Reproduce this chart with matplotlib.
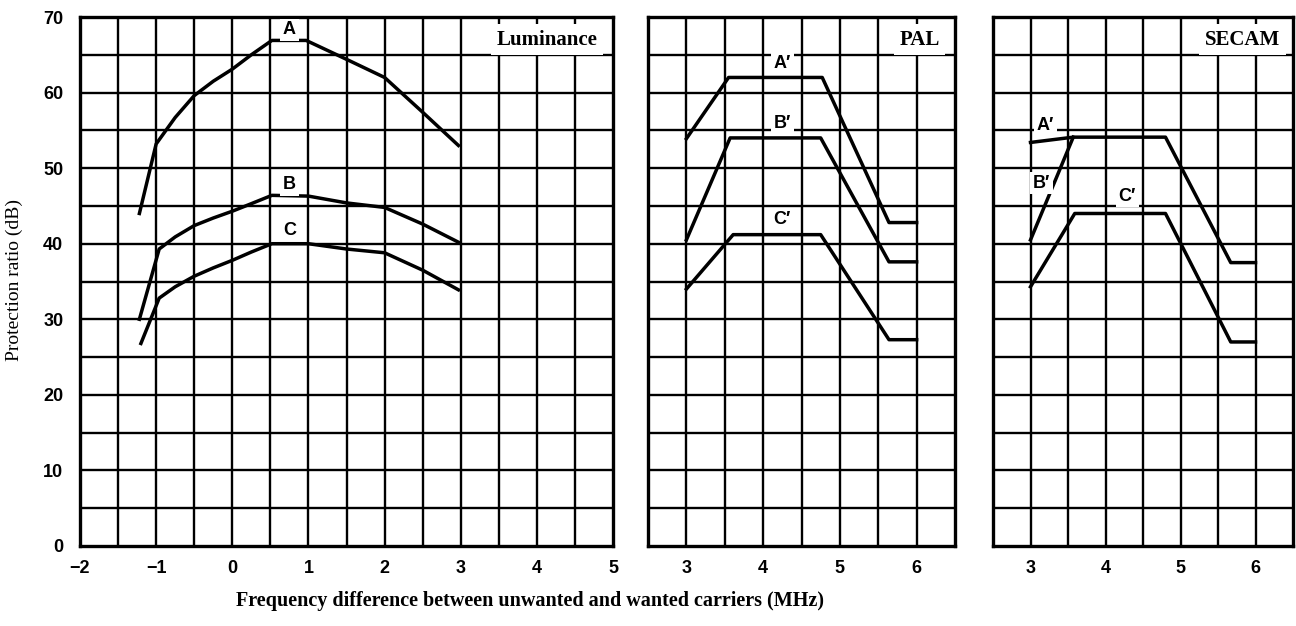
import numpy as np
import matplotlib
matplotlib.use("Agg")
import matplotlib.pyplot as plt

# Luminance panel (MHz, dB)
lum_x_A = [-1.22, -1.0, -0.75, -0.5, -0.25, 0.0, 0.25, 0.52, 0.97, 1.5, 2.0, 2.5, 2.97]
lum_y_A = [44.0, 53.2, 56.7, 59.6, 61.5, 63.1, 65.0, 66.9, 66.9, 64.4, 62.0, 57.4, 53.0]
lum_x_B = [-1.22, -0.96, -0.75, -0.5, -0.25, 0.0, 0.25, 0.52, 1.0, 1.5, 2.0, 2.5, 2.97]
lum_y_B = [30.0, 39.3, 40.9, 42.4, 43.4, 44.3, 45.3, 46.4, 46.3, 45.4, 44.8, 42.6, 40.2]
lum_x_C = [-1.2, -0.96, -0.75, -0.5, -0.25, 0.0, 0.25, 0.52, 1.0, 1.5, 2.0, 2.5, 2.97]
lum_y_C = [26.8, 32.8, 34.3, 35.7, 36.8, 37.8, 38.9, 40.0, 40.0, 39.3, 38.8, 36.5, 33.9]

# PAL panel
pal_x_A = [3.0, 3.55, 4.77, 5.64, 6.0]
pal_y_A = [53.9, 62.0, 62.0, 42.8, 42.8]
pal_x_B = [3.0, 3.57, 4.75, 5.64, 6.0]
pal_y_B = [40.5, 54.0, 54.0, 37.6, 37.6]
pal_x_C = [3.0, 3.61, 4.75, 5.64, 6.0]
pal_y_C = [34.0, 41.2, 41.2, 27.3, 27.3]

# SECAM panel
sec_x_A = [3.0, 3.57, 4.8, 5.67, 6.0]
sec_y_A = [53.4, 54.1, 54.1, 37.5, 37.5]
sec_x_B = [3.0, 3.57]
sec_y_B = [40.5, 54.1]
sec_x_C = [3.0, 3.59, 4.8, 5.67, 6.0]
sec_y_C = [34.3, 44.0, 44.0, 27.0, 27.0]

sans = ["Liberation Sans", "DejaVu Sans"]
serif = ["Liberation Serif", "DejaVu Serif"]

W, H = 1296, 626
fig = plt.figure(figsize=(W / 100, H / 100), dpi=100)


def px_axes(x0, x1, y0, y1):
    # pixel box (left, right, top, bottom) -> figure fraction
    return fig.add_axes([x0 / W, 1 - y1 / H, (x1 - x0) / W, (y1 - y0) / H])


def setup(ax, xmin, xmax, xticks, ylabels):
    ax.set_xlim(xmin, xmax)
    ax.set_ylim(0, 70)
    ax.set_xticks(xticks)
    ax.set_xticklabels([("\u2212%d" % -t) if t < 0 else "%d" % t for t in xticks],
                       family=sans, fontweight="heavy", fontsize=13)
    if ylabels:
        ax.set_yticks(np.arange(0, 71, 10))
        ax.set_yticklabels(["%d" % v for v in np.arange(0, 71, 10)],
                           family=sans, fontweight="heavy", fontsize=13)
    else:
        ax.set_yticks([])
    ax.tick_params(which="both", length=0)
    ax.tick_params(axis="x", pad=10)
    ax.tick_params(axis="y", pad=12)
    # grid every 0.5 MHz and 5 dB
    for gx in np.arange(xmin + 0.5, xmax, 0.5):
        ax.axvline(gx, color="black", lw=1.7, zorder=1)
    for gy in np.arange(5, 70, 5):
        ax.axhline(gy, color="black", lw=1.7, zorder=1)
    for s in ax.spines.values():
        s.set_linewidth(2.4)


def lab(ax, x, y, s, **kw):
    ax.text(x, y, s, ha="center", va="center", family=sans, fontweight="bold",
            fontsize=13, zorder=5,
            bbox=dict(facecolor="white", edgecolor="none", pad=2), **kw)


def title(ax, x, s):
    ax.text(x, 67, s, ha="right", va="center", family=serif, fontsize=15,
            fontweight="semibold", zorder=5,
            bbox=dict(facecolor="white", edgecolor="none", pad=4))


lw = 2.5

ax1 = px_axes(80, 613, 17, 546)
setup(ax1, -2, 5, [-2, -1, 0, 1, 2, 3, 4, 5], True)
ax1.plot(lum_x_A, lum_y_A, color="black", lw=lw, zorder=4)
ax1.plot(lum_x_B, lum_y_B, color="black", lw=lw, zorder=4)
ax1.plot(lum_x_C, lum_y_C, color="black", lw=lw, zorder=4)
lab(ax1, 0.75, 68.3, "A")
lab(ax1, 0.75, 47.8, "B")
lab(ax1, 0.75, 41.8, "C")
title(ax1, 4.8, "Luminance")

ax2 = px_axes(648, 955, 17, 546)
setup(ax2, 2.5, 6.5, [3, 4, 5, 6], False)
ax2.plot(pal_x_A, pal_y_A, color="black", lw=lw, zorder=4)
ax2.plot(pal_x_B, pal_y_B, color="black", lw=lw, zorder=4)
ax2.plot(pal_x_C, pal_y_C, color="black", lw=lw, zorder=4)
lab(ax2, 4.25, 63.9, "A\u2032")
lab(ax2, 4.25, 55.9, "B\u2032")
lab(ax2, 4.25, 43.2, "C\u2032")
title(ax2, 6.3, "PAL")

ax3 = px_axes(993, 1293, 17, 546)
setup(ax3, 2.5, 6.5, [3, 4, 5, 6], False)
ax3.plot(sec_x_A, sec_y_A, color="black", lw=lw, zorder=4)
ax3.plot(sec_x_B, sec_y_B, color="black", lw=lw, zorder=4)
ax3.plot(sec_x_C, sec_y_C, color="black", lw=lw, zorder=4)
lab(ax3, 3.2, 55.6, "A\u2032")
lab(ax3, 3.15, 48.0, "B\u2032")
lab(ax3, 4.29, 46.3, "C\u2032")
title(ax3, 6.33, "SECAM")

fig.text(530 / W, 1 - 601 / H, "Frequency difference between unwanted and wanted carriers (MHz)",
         ha="center", va="center", family=serif, fontsize=14.5, fontweight="bold")
fig.text(14 / W, 1 - 280 / H, "Protection ratio (dB)", ha="center", va="center",
         rotation=90, family=serif, fontsize=14)

fig.savefig("out.png", dpi=100)
